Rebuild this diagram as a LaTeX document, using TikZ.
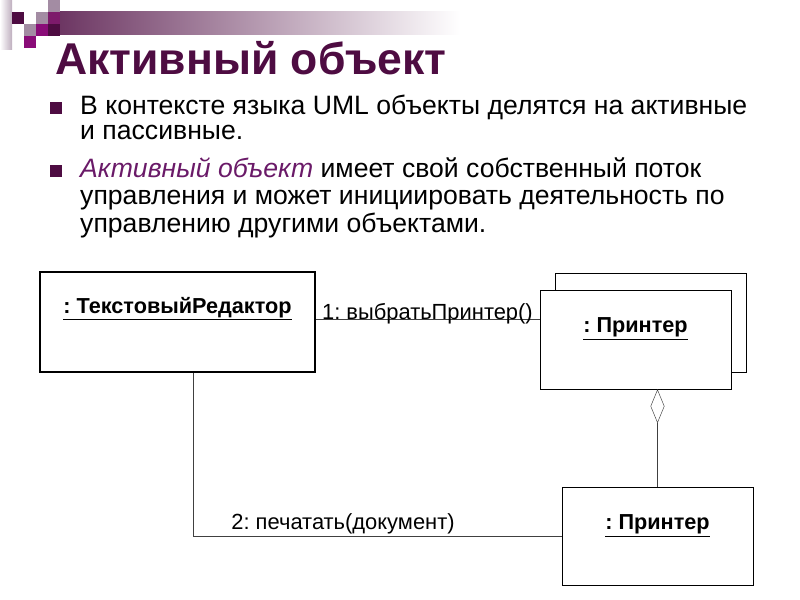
\documentclass[tikz,border=0pt]{standalone}
\usepackage{fontspec}
\setmainfont{Liberation Sans}
\frenchspacing
\usetikzlibrary{positioning,arrows.meta,calc}
\definecolor{plum}{HTML}{4E0C42}
\definecolor{plumlight}{HTML}{A38CA3}
\definecolor{plummid}{HTML}{7D1A6B}
\definecolor{plumbright}{HTML}{8A0C78}
\definecolor{plumitalic}{HTML}{6A1A68}
\tikzstyle{obj} = [rectangle, draw=black, minimum width=5.73cm, minimum height=2.97cm]
\tikzstyle{objname} = [font=\bfseries\fontsize{18.5}{22}\selectfont, inner sep=1pt]
\tikzstyle{msg} = [font=\fontsize{18.7}{22}\selectfont, inner sep=1pt]
\tikzstyle{link} = [draw=black!75]
\tikzstyle{bullet} = [rectangle, fill=plum, minimum size=0.36cm, inner sep=0pt]
\tikzstyle{para} = [anchor=base west, inner sep=0pt, font=\fontsize{22.7}{27}\selectfont]

\begin{document}
\begin{tikzpicture}[x=0.03cm, y=-0.03cm]
\useasboundingbox (0,0) rectangle (800,600);
% header decoration
\shade[left color=plum!85, right color=white] (48,12) rectangle (460,35);
\shade[left color=white, right color=plumlight!70] (0,0) rectangle (12,50);
\fill[plum] (12,12) rectangle (24,24);
\fill[plumlight] (36,12) rectangle (48,24);
\fill[plumlight] (48,0) rectangle (60,12);
\fill[plummid] (48,12) rectangle (60,24);
\fill[plumlight] (24,24) rectangle (36,36);
\fill[plumbright] (36,24) rectangle (48,36);
\fill[plum] (48,24) rectangle (60,36);
\fill[plumbright] (24,36) rectangle (36,48);
\node (title) [anchor=base west, inner sep=0pt, text=plum, font=\bfseries\fontsize{38}{44}\selectfont] at (55,75) {Активный объект};
% bullets
\node (b1) [bullet] at (56,108) {};
\node (t1a) [para] at (80,115) {В контексте языка UML объекты делятся на активные};
\node (t1b) [para] at (80,140) {и пассивные.};
\node (b2) [bullet] at (56,171) {};
\node (t2a) [para] at (80,178) {\textcolor{plumitalic}{\itshape Активный объект} имеет свой собственный поток};
\node (t2b) [para] at (80,205) {управления и может инициировать деятельность по};
\node (t2c) [para] at (80,233) {управлению другими объектами.};
% objects
\node (te) [obj, line width=1.2pt, minimum width=8.25cm, minimum height=3cm] at (177.5,322) {};
\node (tename) [objname, below=0.74cm of te.north] {\underline{: ТекстовыйРедактор}};
\node (pback) [obj] at (651,322.5) {};
\node (pf) [obj, fill=white] at (635.5,339.5) {};
\node (pfname) [objname, below=0.8cm of pf.north] {\underline{: Принтер}};
\node (pb) [obj, minimum height=2.94cm] at (657.5,536) {};
\node (pbname) [objname, below=0.8cm of pb.north] {\underline{: Принтер}};
% links
\draw[link] ([yshift=2pt]te.east) -- ([yshift=2pt]te.east -| pf.west);
\node (m1) [msg, anchor=base west] at ($(te.east)+(5,-2)$) {1: выбратьПринтер()};
\draw[link, {Diamond[open, length=1.02cm, width=0.42cm]}-] (pb.north |- pf.south) -- (pb.north);
\draw[link] (te.south west) ++(154,0) |- (pb.west);
\node (m2) [msg, anchor=base west] at (230,530) {2: печатать(документ)};
\end{tikzpicture}
\end{document}
